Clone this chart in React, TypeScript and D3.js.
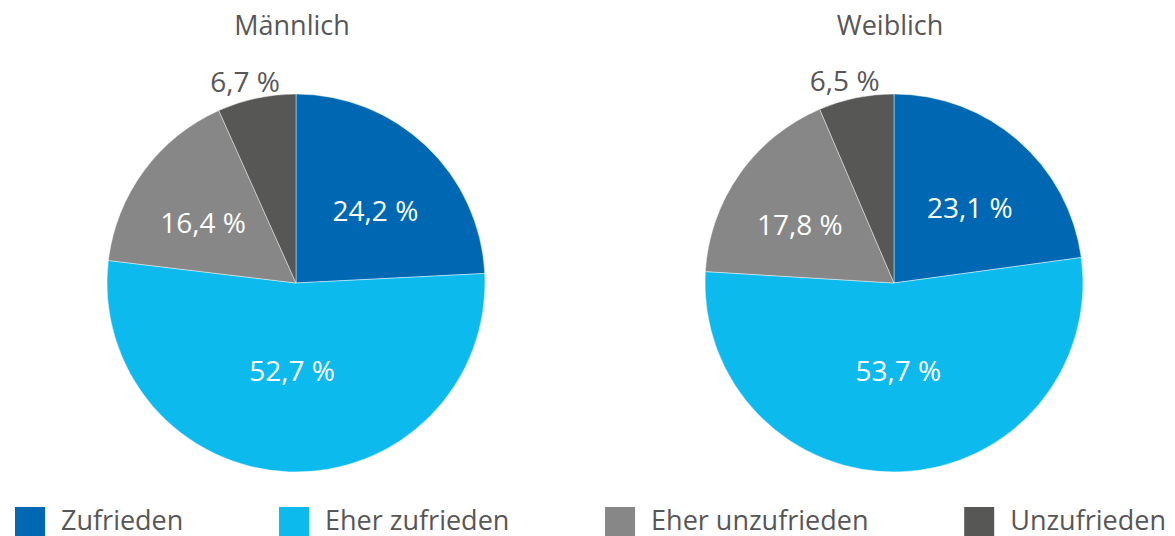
import React, { useEffect, useRef } from 'react'
import * as d3 from 'd3'

const categories = ['Zufrieden', 'Eher zufrieden', 'Eher unzufrieden', 'Unzufrieden']
const groups = ['Männlich', 'Weiblich']
const maleValues = [24.2, 52.7, 16.4, 6.7]
const femaleValues = [23.1, 53.7, 17.8, 6.5]
const colors = ['#0068b3', '#0cbaee', '#878787', '#575756']

const W = 1175
const H = 536
const FONT = '"Open Sans", sans-serif'
const TEXT = '#575757'

const de = d3.formatLocale({ decimal: ',', thousands: '.', grouping: [3], currency: ['', ' €'] })
const fmt = (v: number) => de.format('.1f')(v) + ' %'

export default function App() {
  const svgRef = useRef<SVGSVGElement>(null)

  useEffect(() => {
    const svg = d3.select(svgRef.current)
    svg.selectAll('*').remove()

    const radius = 189
    const cy = 283
    const xPos = d3.scalePoint<string>().domain(groups).range([296, 894])
    const color = d3.scaleOrdinal<string, string>().domain(categories).range(colors)

    const pie = d3
      .pie<{ cat: string; value: number }>()
      .sort(null)
      .value((d) => d.value)
    const arc = d3.arc<d3.PieArcDatum<{ cat: string; value: number }>>().innerRadius(0).outerRadius(radius)

    const series = [maleValues, femaleValues]

    groups.forEach((g, gi) => {
      const cx = xPos(g) as number
      const data = categories.map((cat, i) => ({ cat, value: series[gi][i] }))
      const arcs = pie(data)
      const grp = svg.append('g').attr('transform', `translate(${cx},${cy})`)

      grp
        .selectAll('path')
        .data(arcs)
        .enter()
        .append('path')
        .attr('d', arc)
        .attr('fill', (d) => color(d.data.cat))
        .attr('stroke', '#ffffff')
        .attr('stroke-opacity', 0.55)
        .attr('stroke-width', 0.8)

      arcs.forEach((d) => {
        const mid = (d.startAngle + d.endAngle) / 2
        const outside = d.endAngle - d.startAngle < 0.6
        let lx: number
        let ly: number
        if (outside) {
          lx = Math.sin(mid) * (radius + 17) - 8
          ly = -Math.cos(mid) * (radius + 17)
        } else {
          lx = Math.sin(mid) * radius * 0.61
          ly = -Math.cos(mid) * radius * 0.49 - 5
        }
        grp
          .append('text')
          .attr('x', lx)
          .attr('y', ly)
          .attr('dy', '0.36em')
          .attr('text-anchor', 'middle')
          .attr('font-family', FONT)
          .attr('font-size', 28)
          .attr('fill', outside ? TEXT : '#ffffff')
          .text(fmt(d.data.value))
      })

      svg
        .append('text')
        .attr('x', cx - 4)
        .attr('y', 35)
        .attr('text-anchor', 'middle')
        .attr('font-family', FONT)
        .attr('font-size', 27)
        .attr('fill', TEXT)
        .text(g)
    })

    // legend, spread over the full width
    const sq = 30
    const gap = 16
    const left = 15
    const right = 1166
    const legend = svg.append('g')
    const items = categories.map((c) => {
      const it = legend.append('g')
      it.append('rect').attr('width', sq).attr('height', sq).attr('y', 507).attr('fill', color(c))
      const t = it
        .append('text')
        .attr('x', sq + gap)
        .attr('y', 530)
        .attr('font-family', FONT)
        .attr('font-size', 27)
        .attr('fill', TEXT)
        .text(c)
      const w = sq + gap + (t.node() as SVGTextElement).getComputedTextLength()
      return { it, w }
    })
    const total = d3.sum(items, (d) => d.w)
    const spacing = (right - left - total) / (items.length - 1)
    let x = left
    items.forEach(({ it, w }) => {
      it.attr('transform', `translate(${x},0)`)
      x += w + spacing
    })
  }, [])

  return (
    <svg
      ref={svgRef}
      width={W}
      height={H}
      style={{ position: 'absolute', left: 0, top: 0, background: '#ffffff' }}
    />
  )
}
